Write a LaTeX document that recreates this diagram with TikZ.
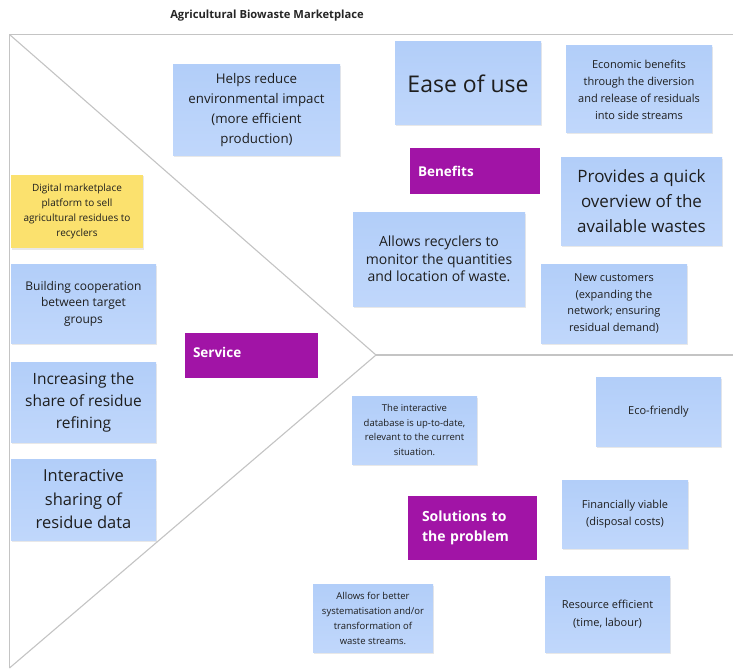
\documentclass[tikz,border=0pt]{standalone}
\usepackage{fontspec}
\setmainfont{Open Sans}
\usetikzlibrary{shadows}
\definecolor{noteblue}{RGB}{178,206,249}
\definecolor{noteblueb}{RGB}{192,215,251}
\definecolor{noteyellow}{RGB}{251,225,110}
\definecolor{notepurple}{RGB}{161,20,166}
\definecolor{framegray}{RGB}{196,196,196}
\definecolor{notetext}{RGB}{30,30,30}
\tikzset{
  note/.style={inner sep=0pt, align=center, text=notetext,
    drop shadow={shadow xshift=1pt, shadow yshift=-1.5pt, opacity=0.18}},
  bluenote/.style={note, top color=noteblue, bottom color=noteblueb},
  yellownote/.style={note, fill=noteyellow},
  purplenote/.style={inner sep=0pt, fill=notepurple, text=white, align=left},
  frameline/.style={draw=framegray, line width=1.4pt},
  fs/.style n args={2}{font=\fontsize{#1}{#2}\selectfont},
  bfs/.style n args={2}{font=\fontsize{#1}{#2}\selectfont\bfseries}
}
\begin{document}
\begin{tikzpicture}[x=1pt,y=-1pt]
\useasboundingbox (0,0) rectangle (733,671);
\fill[white] (0,0) rectangle (733,671);
% frame
\coordinate (tl) at (9.5,34.5);
\coordinate (tr) at (733,34.5);
\coordinate (bl) at (9.5,668);
\coordinate (vx) at (376,355);
\coordinate (mr) at (733,355);
\draw[frameline] (tr) -- (tl) -- (bl);
\draw[frameline, line width=1.1pt] (tl) -- (vx) -- (bl);
\draw[frameline, line width=1.1pt] (vx) -- (mr);
% title
\node[bfs={11.2}{14}, text=black!85] (title) at (267,16) {Agricultural Biowaste Marketplace};
% benefits area
\node[bluenote, minimum width=167, minimum height=91, fs={13.3}{20}] (envimp) at (256.5,110.5)
  {Helps reduce\\environmental impact\\(more efficient\\production)};
\node[bluenote, minimum width=146, minimum height=83, fs={23}{28}] (ease) at (468,83.5) {Ease of use};
\node[bluenote, minimum width=146, minimum height=87, fs={11}{17}] (econ) at (639,89.5)
  {Economic benefits\\through the diversion\\and release of residuals\\into side streams};
\node[purplenote, minimum width=130, minimum height=46, text width=114, bfs={13.5}{16}] (benefits) at (475,171) {Benefits};
\node[bluenote, minimum width=161, minimum height=87, fs={17}{25}] (overview) at (641.5,201.5)
  {Provides a quick\\overview of the\\available wastes};
\node[bluenote, minimum width=172, minimum height=94, fs={14}{17.5}] (monitor) at (439,259)
  {Allows recyclers to\\monitor the quantities\\and location of waste.};
\node[bluenote, minimum width=146, minimum height=79, fs={11}{16.7}] (newcust) at (614,303.5)
  {New customers\\(expanding the\\network; ensuring\\residual demand)};
% service area
\node[yellownote, minimum width=132, minimum height=73, fs={10}{15}] (digital) at (77,211.5)
  {Digital marketplace\\platform to sell\\agricultural residues to\\recyclers};
\node[bluenote, minimum width=145, minimum height=79, fs={12}{16.5}] (coop) at (83.5,303.5)
  {Building cooperation\\between target\\groups};
\node[bluenote, minimum width=145, minimum height=80, fs={15.5}{22}] (refining) at (83.5,402)
  {Increasing the\\share of residue\\refining};
\node[bluenote, minimum width=145, minimum height=81, fs={16.5}{23.5}] (sharing) at (83.5,499.5)
  {Interactive\\sharing of\\residue data};
\node[purplenote, minimum width=133, minimum height=45, text width=117, bfs={13.5}{16}] (service) at (251.5,355.5) {\raisebox{6pt}{Service}};
% solutions area
\node[bluenote, minimum width=125, minimum height=68, fs={9.5}{14.4}] (database) at (414.5,430)
  {The interactive\\database is up-to-date,\\relevant to the current\\situation.};
\node[bluenote, minimum width=125, minimum height=69, fs={11}{16}] (eco) at (658.5,411.5) {Eco-friendly};
\node[purplenote, minimum width=129, minimum height=64, text width=101, bfs={14}{20}] (solutions) at (472.5,528)
  {\raisebox{-3.5pt}{Solutions to}\\\raisebox{-3.5pt}{the problem}};
\node[bluenote, minimum width=126, minimum height=68, fs={11}{17}] (financial) at (625,514)
  {Financially viable\\(disposal costs)};
\node[bluenote, minimum width=120, minimum height=68, fs={9.5}{15}] (system) at (373,618)
  {Allows for better\\systematisation and/or\\transformation of\\waste streams.};
\node[bluenote, minimum width=125, minimum height=76, fs={11}{17.5}] (resource) at (607.5,614)
  {Resource efficient\\(time, labour)};
\end{tikzpicture}
\end{document}
